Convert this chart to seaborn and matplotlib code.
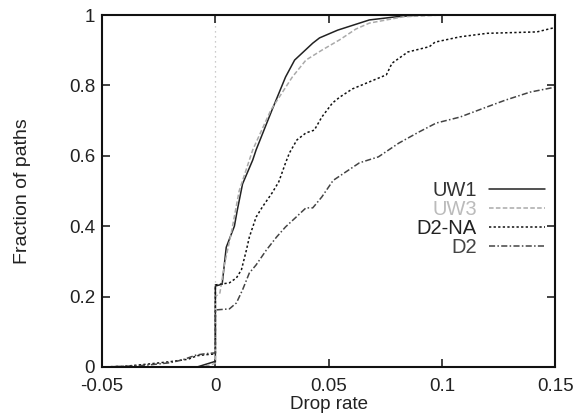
import numpy as np
import matplotlib
matplotlib.use('Agg')
import matplotlib.pyplot as plt
import seaborn as sns

# CDF of drop rate per data set
uw1_x = [-0.05, -0.008, -0.004, -0.0005, 0, 0, 0.003, 0.0048, 0.0084, 0.0097, 0.012, 0.0165,
         0.018, 0.025, 0.031, 0.035, 0.043, 0.046, 0.054, 0.068, 0.08, 0.09, 0.15]
uw1_y = [0, 0, 0.008, 0.015, 0.015, 0.23, 0.235, 0.34, 0.40, 0.446, 0.52, 0.588,
         0.617, 0.73, 0.824, 0.872, 0.92, 0.935, 0.957, 0.986, 0.995, 1.0, 1.0]

uw3_x = [-0.05, -0.006, -0.003, 0, 0, 0.002, 0.004, 0.007, 0.0105, 0.0165, 0.0245, 0.034,
         0.040, 0.047, 0.055, 0.062, 0.068, 0.083, 0.1, 0.15]
uw3_y = [0, 0, 0.005, 0.01, 0.2, 0.21, 0.29, 0.38, 0.5, 0.617, 0.73, 0.824,
         0.872, 0.9, 0.93, 0.96, 0.977, 0.995, 1.0, 1.0]

d2na_x = [-0.05, -0.04, -0.03, -0.02, -0.012, -0.008, -0.004, 0, 0, 0.0062, 0.0093, 0.0115,
          0.0137, 0.015, 0.018, 0.0208, 0.025, 0.028, 0.031, 0.0327, 0.036, 0.040, 0.0437,
          0.047, 0.0517, 0.055, 0.0605, 0.068, 0.0755, 0.078, 0.085, 0.0945, 0.097, 0.108,
          0.12, 0.142, 0.149, 0.15]
d2na_y = [0, 0.002, 0.008, 0.015, 0.022, 0.032, 0.035, 0.037, 0.233, 0.239, 0.253, 0.276,
          0.332, 0.369, 0.426, 0.455, 0.494, 0.526, 0.58, 0.608, 0.645, 0.665, 0.673,
          0.71, 0.75, 0.767, 0.79, 0.81, 0.83, 0.863, 0.895, 0.91, 0.923, 0.938,
          0.948, 0.952, 0.963, 0.965]

d2_x = [-0.05, -0.035, -0.029, -0.02, -0.0146, -0.0084, -0.004, 0, 0, 0.0062, 0.0093, 0.012,
        0.015, 0.018, 0.0225, 0.027, 0.031, 0.0357, 0.040, 0.043, 0.047, 0.052, 0.0636,
        0.072, 0.081, 0.09, 0.0975, 0.108, 0.12, 0.128, 0.139, 0.15]
d2_y = [0, 0.003, 0.006, 0.012, 0.02, 0.034, 0.038, 0.04, 0.162, 0.165, 0.182, 0.219,
        0.267, 0.29, 0.332, 0.369, 0.398, 0.426, 0.452, 0.452, 0.483, 0.53, 0.58,
        0.597, 0.636, 0.668, 0.693, 0.71, 0.739, 0.758, 0.781, 0.795]

labels = ['UW1', 'UW3', 'D2-NA', 'D2']
colors = ['#222222', '#aaaaaa', '#111111', '#444444']
styles = ['-', (0, (3, 1.5)), (0, (1.5, 1.5)), (0, (4, 1.5, 1, 1.5))]

sns.set_style('ticks')
plt.rcParams['font.family'] = ['Liberation Sans', 'DejaVu Sans']

fig = plt.figure(figsize=(5.77, 4.17), dpi=100)
ax = fig.add_axes([0.177, 0.12, 0.785, 0.844])

ax.axvline(0, color='#bbbbbb', linestyle=(0, (1, 3)), linewidth=0.9, zorder=0)

series = [(uw1_x, uw1_y), (uw3_x, uw3_y), (d2na_x, d2na_y), (d2_x, d2_y)]
for (xs, ys), lab, col, ls in zip(series, labels, colors, styles):
    sns.lineplot(x=xs, y=ys, ax=ax, sort=False, estimator=None, color=col,
                 linestyle=ls, linewidth=1.1, label=lab)

ax.set_xlim(-0.05, 0.15)
ax.set_ylim(0, 1)
ax.set_xticks([-0.05, 0, 0.05, 0.1, 0.15])
ax.set_xticklabels(['-0.05', '0', '0.05', '0.1', '0.15'])
ax.set_yticks([0, 0.2, 0.4, 0.6, 0.8, 1])
ax.set_yticklabels(['0', '0.2', '0.4', '0.6', '0.8', '1'])
ax.tick_params(direction='in', length=6, width=1.2, top=True, right=True,
               labelsize=13.5, colors='#222222', pad=5)
ax.tick_params(axis='x', pad=8)
for s in ax.spines.values():
    s.set_linewidth(1.5)
    s.set_color('#111111')

ax.set_xlabel('Drop rate', fontsize=13.5, color='#222222', labelpad=1)
ax.set_ylabel('Fraction of paths', fontsize=14, color='#222222', labelpad=27)

ax.legend(loc='center right', bbox_to_anchor=(0.978, 0.419), frameon=False,
          markerfirst=False, handlelength=2.8, labelspacing=0.0, fontsize=14.5,
          borderaxespad=0, borderpad=0, handletextpad=0.6,
          labelcolor=['#333333', '#bbbbbb', '#222222', '#444444'])

fig.savefig('out.png', dpi=100)
